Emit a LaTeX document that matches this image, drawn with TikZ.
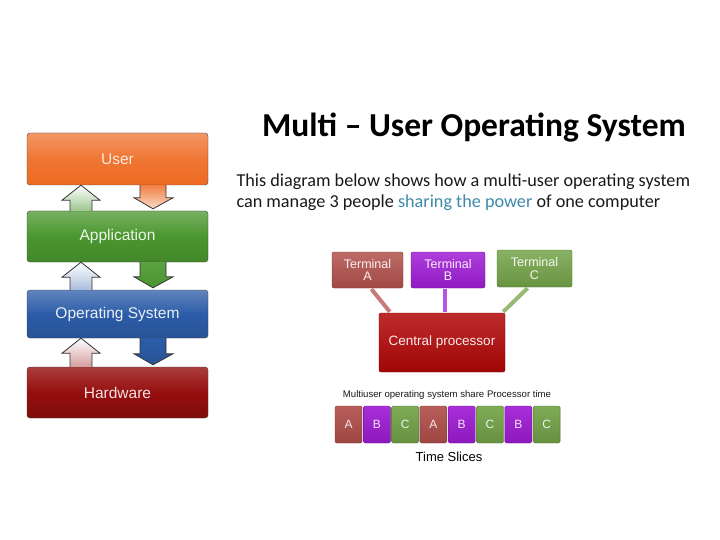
\documentclass[tikz,border=0pt]{standalone}
\usepackage{fontspec}
\setmainfont{Carlito}
\newfontfamily\arialfont{Liberation Sans}
\usetikzlibrary{calc}

% layer colours (left stack)
\definecolor{userorange}{RGB}{238,106,34}
\definecolor{appgreen}{RGB}{74,150,46}
\definecolor{osblue}{RGB}{44,92,168}
\definecolor{hwred}{RGB}{150,14,14}
% terminal / slice colours (right side)
\definecolor{sliceA}{RGB}{178,80,76}
\definecolor{sliceB}{RGB}{160,28,214}
\definecolor{sliceC}{RGB}{116,164,72}
\definecolor{cpured}{RGB}{178,6,6}
\definecolor{powerblue}{RGB}{62,138,170}

% arrow going up from the lower layer to the upper one
\newcommand{\liftarrow}[3]{%
  \draw[arrowline, top color=white, bottom color=#3]
    (#2.north -| 70,0) -- ($(#1.south -| 70,0)+(0,15)$) -- ($(#1.south -| 62,0)+(0,15)$)
    -- (#1.south -| 81,0) -- ($(#1.south -| 100,0)+(0,15)$) -- ($(#1.south -| 92,0)+(0,15)$)
    -- (#2.north -| 92,0);}
% arrow going down from the upper layer to the lower one
\newcommand{\droparrow}[4]{%
  \draw[arrowline, top color=#3, bottom color=#4]
    (#1.south -| 140,0) -- ($(#2.north -| 140,0)+(0,-13)$) -- ($(#2.north -| 134,0)+(0,-13)$)
    -- ($(#2.north -| 153,0)+(0,-2)$) -- ($(#2.north -| 173,0)+(0,-13)$) -- ($(#2.north -| 166,0)+(0,-13)$)
    -- (#1.south -| 166,0);}

\begin{document}
\begin{tikzpicture}[x=1pt,y=-1pt,
    layer/.style={draw=black!75, rounded corners=3pt, minimum width=181pt, inner sep=0pt,
      font=\arialfont\fontsize{15.5}{18}\selectfont},
    arrowline/.style={draw=black!80, line width=0.8pt, line join=miter},
    term/.style={draw=#1!70!black, rounded corners=2pt, inner sep=0pt,
      top color=#1!85!white, bottom color=#1!90!black, text=white!92!#1,
      align=center, font=\arialfont\fontsize{12.5}{12.5}\selectfont},
    link/.style={line width=4pt, draw=#1!75!white},
    slice/.style={draw=slice#1!70!black, rounded corners=1.5pt, inner sep=0pt,
      minimum width=27pt, minimum height=37pt,
      top color=slice#1!92!white, bottom color=slice#1!88!black, text=white!88!slice#1,
      font=\arialfont\fontsize{12}{12}\selectfont}]
  \useasboundingbox[fill=white] (0,0) rectangle (720,540);

  %%%%%%%%%%%%%%%%%%%%%%%%%%%%%%%%%%%%%%%%%%%%%%
  % Left: layer stack
  %%%%%%%%%%%%%%%%%%%%%%%%%%%%%%%%%%%%%%%%%%%%%%
  \begin{scope}
    \node[layer, minimum height=52pt, top color=userorange!70!white, bottom color=userorange,
      middle color=userorange!92!white, text=white!85!userorange] (user) at (117.5,159) {User};
    \node[layer, minimum height=51pt, top color=appgreen!75!white, bottom color=appgreen!90!black,
      middle color=appgreen, text=white!90!appgreen] (app) at (117.5,236.5) {Application};
    \node[layer, minimum height=48pt, top color=osblue!75!white, bottom color=osblue!90!black,
      middle color=osblue, text=white!90!osblue] (os) at (117.5,314) {Operating System};
    \node[layer, minimum height=51pt, top color=hwred!80!white, bottom color=hwred!85!black,
      middle color=hwred, text=white!88!hwred] (hw) at (117.5,392.5) {Hardware};

    % arrows between layers
    \liftarrow{user}{app}{appgreen!55!white}
    \droparrow{user}{app}{userorange!85!white}{userorange!25!white}
    \liftarrow{app}{os}{osblue!40!white}
    \droparrow{app}{os}{appgreen!90!white}{appgreen}
    \liftarrow{os}{hw}{hwred!40!white}
    \droparrow{os}{hw}{osblue}{osblue!90!black}
  \end{scope}

  %%%%%%%%%%%%%%%%%%%%%%%%%%%%%%%%%%%%%%%%%%%%%%
  % Right: title and text
  %%%%%%%%%%%%%%%%%%%%%%%%%%%%%%%%%%%%%%%%%%%%%%
  \node[font=\bfseries\fontsize{33.5}{38}\selectfont] (title) at (474,128) {Multi -- User Operating System};
  \node[anchor=west, align=left, font=\fontsize{18.2}{21}\selectfont, text=black!90] (intro) at (233,192)
    {This diagram below shows how a multi-user operating system\\
     can manage 3 people \textcolor{powerblue}{sharing the power} of one computer};

  % terminals and processor
  \node[term=sliceA, minimum width=71pt, minimum height=36pt] (ta) at (367.5,270) {Terminal\\A};
  \node[term=sliceB, minimum width=74pt, minimum height=36pt] (tb) at (448,270) {Terminal\\B};
  \node[term=sliceC, minimum width=75pt, minimum height=37pt] (tc) at (534.5,268.5) {Terminal\\C};
  \node[term=cpured, minimum width=126pt, minimum height=59pt,
    font=\arialfont\fontsize{13.5}{14}\selectfont] (cpu) at (442,342.5) {Central processor};

  \draw[link=sliceA] ($(ta.south)+(4,1)$) -- ($(cpu.north west)+(11,-1)$);
  \draw[link=sliceB] ($(tb.south)+(-3,1)$) -- ($(tb.south |- cpu.north)+(-3,-1)$);
  \draw[link=sliceC] ($(tc.south)+(-7,1)$) -- ($(cpu.north east)+(-2,-1)$);

  % time slices
  \node[font=\arialfont\fontsize{9.6}{11}\selectfont, text=black!90] (share) at (447,395)
    {Multiuser operating system share Processor time};
  \foreach \l [count=\i from 0] in {A,B,C,A,B,C,B,C}
    \node[slice=\l] (s\i) at (348.5+28.3*\i,424.5) {\l};
  \node[font=\arialfont\fontsize{13}{14}\selectfont] (slices) at (449,457) {Time Slices};
\end{tikzpicture}
\end{document}
